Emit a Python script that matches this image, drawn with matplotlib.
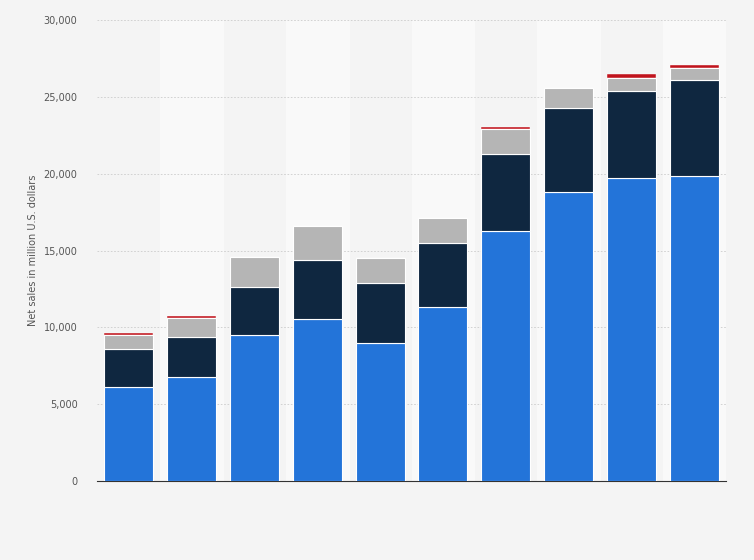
import matplotlib
matplotlib.use("Agg")
import matplotlib.pyplot as plt
import numpy as np

years = list(range(11))
blue = [6100, 6800, 9500, 10550, 8950, 11300, 16300, 18800, 19700, 19850, 19850]
navy = [2500, 2600, 3100, 3800, 3950, 4200, 5000, 5500, 5700, 6250, 6300]
gray = [900, 1200, 2000, 2250, 1600, 1600, 1600, 1300, 800, 800, 800]
red = [100, 150, 0, 0, 0, 0, 150, 0, 300, 200, 200]
# only 11 bars in picture; values per bar
blue = [6100, 6800, 9500, 10550, 8950, 11300, 16300, 18800, 19700, 19850]
navy = [2500, 2600, 3100, 3800, 3950, 4200, 5000, 5500, 5700, 6250]
gray = [900, 1200, 2000, 2250, 1600, 1600, 1600, 1300, 800, 800]
red = [100, 150, 0, 0, 0, 0, 150, 0, 300, 200]
x = np.arange(len(blue))

fig = plt.figure(figsize=(7.54, 5.6), dpi=100)
fig.patch.set_facecolor("#f4f4f4")
ax = fig.add_axes([97/754, 79/560, 629/754, 461/560])
ax.set_facecolor("#f4f4f4")
for i in x:
    if i % 2 == 1:
        ax.axvspan(i - 0.5, i + 0.5, color="#f9f9f9", zorder=0)
kw = dict(width=0.78, edgecolor="white", linewidth=0.8, zorder=3)
b = np.array(blue); n = np.array(navy); g = np.array(gray); r = np.array(red)
ax.bar(x, b, color="#2374d9", **kw)
ax.bar(x, n, bottom=b, color="#0f2740", **kw)
ax.bar(x, g, bottom=b + n, color="#b5b5b5", **kw)
ax.bar(x, r, bottom=b + n + g, color="#c0141d", width=0.78, edgecolor="white", linewidth=0.3, zorder=3)
ax.set_xlim(-0.5, len(blue) - 0.5)
ax.set_ylim(0, 30000)
ax.set_yticks(range(0, 30001, 5000))
ax.set_yticklabels([f"{v:,}" for v in range(0, 30001, 5000)], fontsize=7, color="#555555")
ax.set_xticks([])
ax.grid(axis="y", color="#cccccc", linestyle=(0, (2, 2)), linewidth=0.6, zorder=1)
for s in ["top", "right", "left"]:
    ax.spines[s].set_visible(False)
ax.spines["bottom"].set_color("#333333")
ax.tick_params(axis="y", length=0, pad=14)
ax.set_ylabel("Net sales in million U.S. dollars", fontsize=7, color="#555555")
fig.savefig("out.png", dpi=100, facecolor=fig.get_facecolor())
